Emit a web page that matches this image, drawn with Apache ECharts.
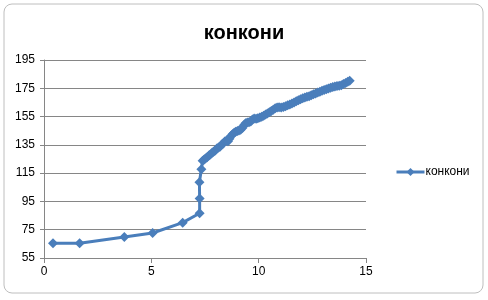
<!DOCTYPE html>
<html>
<head>
<meta charset="utf-8">
<script src="https://cdn.jsdelivr.net/npm/echarts@6/dist/echarts.min.js"></script>
<style>
html,body{margin:0;padding:0;background:#fff;}
#c{width:488px;height:300px;}
</style>
</head>
<body>
<div id="c"></div>
<script>
var chartTitle = "конкони";
var seriesName = "конкони";
var xValues = [0.42,1.66,3.74,5.06,6.46,7.25,7.25,7.24,7.33,7.39,
 7.45,7.52,7.60,7.68,7.75,7.83,7.90,7.98,8.05,8.13,8.20,8.28,8.35,8.42,8.50,8.57,8.64,8.71,8.78,8.86,8.93,
 9.01,9.08,9.16,9.24,9.31,9.39,9.47,9.55,9.63,9.71,9.79,9.88,9.96,10.05,10.14,10.23,10.32,10.41,10.50,
 10.59,10.68,10.77,10.86,10.95,11.05,11.15,11.25,11.35,11.45,11.55,11.65,11.75,11.85,11.95,12.05,12.15,
 12.25,12.35,12.45,12.55,12.65,12.75,12.85,12.95,13.05,13.15,13.25,13.35,13.45,13.55,13.65,13.75,13.85,
 13.95,14.05,14.15,14.24];
var yValues = [65.4,65.4,69.9,72.7,80.0,86.6,97.0,108.5,117.7,123.8,
 124.5,125.3,126.2,127.4,128.1,129.5,130.2,131.0,132.4,133.1,133.6,135.2,136.0,137.3,138.1,137.6,139.4,141.2,142.5,143.6,144.3,
 144.8,145.1,145.6,146.9,148.8,150.2,150.8,151.0,151.6,152.9,153.7,153.5,153.9,154.4,154.9,155.6,156.4,157.2,158.0,
 158.9,159.8,160.8,161.4,161.6,161.5,161.8,162.3,163.0,163.6,164.3,165.0,165.8,166.6,167.3,167.9,168.5,
 169.0,169.4,170.0,170.7,171.4,172.0,172.6,173.2,173.8,174.3,174.9,175.4,175.9,176.3,176.6,176.8,177.2,
 178.0,178.8,179.6,180.4];
var xTicks = [0,5,10,15];
var yTicks = [55,75,95,115,135,155,175,195];

var pts = xValues.map(function(x,i){return [x,yValues[i]];});
var color = '#4A7EBB';
var font = 'Liberation Sans';
var chart = echarts.init(document.getElementById('c'));
chart.setOption({
  animation:false,
  backgroundColor:'#ffffff',
  textStyle:{fontFamily:font},
  title:{text:chartTitle,left:'center',top:18,
    textStyle:{fontFamily:font,fontSize:20,fontWeight:'bold',color:'#000'}},
  graphic:[{type:'rect',shape:{x:4,y:4,width:479,height:289,r:8},
    style:{fill:'none',stroke:'#BEBEBE',lineWidth:1},z:-1}],
  legend:{left:390,top:161,orient:'vertical',itemWidth:28,itemHeight:10,itemGap:4,
    data:[{name:seriesName}],
    lineStyle:{width:3,color:color},
    itemStyle:{color:color},
    textStyle:{fontFamily:font,fontSize:12,color:'#000',padding:[0,0,0,-4]}},
  grid:{left:44,right:122,top:60,bottom:42,containLabel:false},
  xAxis:{type:'value',min:xTicks[0],max:xTicks[xTicks.length-1],interval:5,
    axisLine:{show:true,lineStyle:{color:'#868686',width:1}},
    axisTick:{show:true,length:5,lineStyle:{color:'#868686'}},
    axisLabel:{color:'#000',fontSize:12,fontFamily:font,margin:8},
    splitLine:{show:false}},
  yAxis:{type:'value',min:yTicks[0],max:yTicks[yTicks.length-1],interval:20,
    axisLine:{show:true,lineStyle:{color:'#868686',width:1}},
    axisTick:{show:true,length:4,lineStyle:{color:'#868686'}},
    axisLabel:{color:'#000',fontSize:12,fontFamily:font,margin:9},
    splitLine:{show:true,lineStyle:{color:'#868686',width:1}}},
  series:[{name:seriesName,type:'line',data:pts,
    symbol:'diamond',symbolSize:10,showSymbol:true,
    lineStyle:{color:color,width:3},
    itemStyle:{color:color,borderWidth:0}}]
});
</script>
</body>
</html>
